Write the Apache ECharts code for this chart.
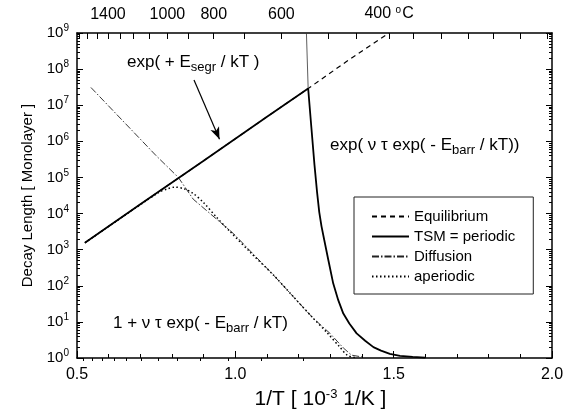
<!DOCTYPE html>
<html>
<head>
<meta charset="utf-8">
<script src="https://cdn.jsdelivr.net/npm/echarts@6/dist/echarts.min.js"></script>
<style>
  html, body { margin: 0; padding: 0; background: #fff; }
  #chart { width: 581px; height: 418px; }
</style>
</head>
<body>
<div id="chart"></div>
<script>
// x: 1/T [10^-3 1/K], y: decay length [monolayer]
const equilX = [0.525, 0.7, 0.9, 1.1, 1.23, 1.35, 1.485];
const equilY = [1.55e3, 1.8e4, 2.9e5, 4.8e6, 2.9e7, 1.6e8, 1e9];

const tsmX = [0.525, 0.7, 0.9, 1.1, 1.23, 1.24, 1.25, 1.258, 1.265, 1.272, 1.28, 1.294, 1.309, 1.325, 1.341, 1.36, 1.383, 1.41, 1.436, 1.46, 1.488, 1.52, 1.56, 1.6];
const tsmY = [1.55e3, 1.8e4, 2.9e5, 4.8e6, 2.9e7, 2.5e6, 2.2e5, 4e4, 1.1e4, 4.5e3, 2e3, 500, 117, 40, 17, 9, 4.8, 3.0, 2.0, 1.6, 1.3, 1.15, 1.07, 1.03];

// steep part of the barrier curve above the kink
const barrX = [1.2245, 1.23];
const barrY = [1e9, 2.9e7];

const diffX = [0.544, 0.65, 0.75, 0.82, 0.867, 0.994, 1.12, 1.183, 1.246, 1.299, 1.341, 1.367, 1.4];
const diffY = [3.1e7, 3.3e6, 4e5, 1.0e5, 2.5e4, 2.8e3, 200, 50, 12.6, 4.8, 1.9, 1.2, 1.07];

const aperX = [0.525, 0.757, 0.785, 0.809, 0.84, 0.867, 0.9, 0.94, 0.983, 1.05, 1.12, 1.183, 1.246, 1.29, 1.33, 1.355, 1.38];
const aperY = [1.55e3, 3.8e4, 4.8e4, 5.4e4, 4.8e4, 3.6e4, 2e4, 8e3, 3.2e3, 800, 200, 50, 12.6, 5, 2, 1.17, 1.03];

// top axis, temperature in deg C
const tempLabels = [1400, 1000, 800, 600, 400];
const tempMajor = [1700, 1600, 1500, 1400, 1300, 1200, 1100, 1000, 900, 800, 700, 600, 500, 450, 400];
const tempMinor = [1650, 1550, 1450, 1350, 1250, 1150, 1050, 950, 850, 750, 650, 550];
// ticks right of 400 C, read straight off the picture as 1/T
const topExtraTicks = [1.561, 1.649, 1.735, 1.814, 1.899, 1.984];

const decades = [0, 1, 2, 3, 4, 5, 6, 7, 8, 9];

const toInv = t => 1000 / (t + 273.15);
const zip = (xs, ys) => xs.map((x, i) => [x, ys[i]]);

const minorLog = [];
decades.slice(0, 9).forEach(d => {
  for (let k = 2; k <= 9; k++) minorLog.push(d + Math.log10(k));
});

const FONT = 'Liberation Sans';
const chart = echarts.init(document.getElementById('chart'));

const gridRect = { left: 77, top: 33, width: 475, height: 325 };
const lineColor = '#000';

const option = {
  animation: false,
  textStyle: { fontFamily: FONT, color: '#000' },
  grid: [
    Object.assign({}, gridRect),
    Object.assign({}, gridRect)
  ],
  legend: {
    data: ['Equilibrium', 'TSM = periodic', 'Diffusion', 'aperiodic'],
    orient: 'vertical',
    left: 354,
    top: 197,
    itemWidth: 37,
    itemHeight: 10,
    itemGap: 5,
    padding: [12, 18, 10, 17],
    borderColor: '#222',
    borderWidth: 1,
    selectedMode: false,
    itemStyle: { opacity: 0 },
    textStyle: { fontFamily: FONT, fontSize: 15, color: '#000', lineHeight: 15 }
  },
  xAxis: [
    {
      type: 'value', gridIndex: 0, position: 'bottom',
      min: 0.5, max: 2.0, interval: 0.5,
      name: '1/T [ 10{s|-3} 1/K ]',
      nameLocation: 'middle',
      nameGap: 27,
      nameTextStyle: {
        fontSize: 21, color: '#000', padding: [0, 0, 0, 12],
        rich: { s: { fontSize: 13, padding: [0, 0, 10, 0] } }
      },
      axisLine: { lineStyle: { color: lineColor, width: 1.5 } },
      axisTick: { inside: true, length: 7, lineStyle: { color: lineColor } },
      minorTick: { show: true, splitNumber: 5, length: 4, lineStyle: { color: lineColor } },
      axisLabel: { fontSize: 16, color: '#000', margin: 9, formatter: v => v.toFixed(1) },
      splitLine: { show: false }
    },
    {
      type: 'value', gridIndex: 0, position: 'top',
      min: 0.5, max: 2.0,
      axisLine: { lineStyle: { color: lineColor, width: 1.5 } },
      axisTick: {
        inside: true, length: 6,
        customValues: tempMajor.map(toInv).concat(topExtraTicks),
        lineStyle: { color: lineColor }
      },
      axisLabel: {
        fontSize: 16, color: '#000', margin: 10,
        customValues: tempLabels.map(toInv),
        formatter: v => {
          const t = Math.round(1000 / v - 273.15);
          return t === 400 ? '400 {s|o}C' : String(t);
        },
        rich: { s: { fontSize: 10, padding: [0, 1, 8, 0] } }
      },
      splitLine: { show: false }
    },
    {
      type: 'value', gridIndex: 1, position: 'bottom', show: false,
      min: 0.5, max: 2.0
    },
    {
      type: 'value', gridIndex: 1, position: 'top',
      min: 0.5, max: 2.0,
      axisLine: { show: false },
      axisTick: { inside: true, length: 3, customValues: tempMinor.map(toInv), lineStyle: { color: lineColor } },
      axisLabel: { show: false },
      splitLine: { show: false }
    }
  ],
  yAxis: [
    {
      type: 'log', gridIndex: 0, position: 'left',
      min: 1, max: 1e9, logBase: 10,
      name: 'Decay Length [ Monolayer ]',
      nameLocation: 'middle',
      nameGap: 30,
      nameTextStyle: { fontSize: 15, color: '#000' },
      axisLine: { lineStyle: { color: lineColor, width: 1.5 } },
      axisTick: { inside: true, length: 6, lineStyle: { color: lineColor } },
      axisLabel: {
        color: '#000', margin: 8,
        formatter: v => '{b|10}{s|' + Math.round(Math.log10(v)) + '}',
        rich: {
          b: { fontSize: 15, color: '#000' },
          s: { fontSize: 10, color: '#000', padding: [0, 0, 9, 0] }
        }
      },
      splitLine: { show: false }
    },
    {
      type: 'log', gridIndex: 0, position: 'right',
      min: 1, max: 1e9, logBase: 10,
      axisLine: { lineStyle: { color: lineColor, width: 1.5 } },
      axisTick: { inside: true, length: 6, lineStyle: { color: lineColor } },
      axisLabel: { show: false },
      splitLine: { show: false }
    },
    {
      type: 'value', gridIndex: 1, position: 'left',
      min: 0, max: 9,
      axisLine: { show: false },
      axisTick: { inside: true, length: 3, customValues: minorLog, lineStyle: { color: lineColor } },
      axisLabel: { show: false },
      splitLine: { show: false }
    },
    {
      type: 'value', gridIndex: 1, position: 'right',
      min: 0, max: 9,
      axisLine: { show: false },
      axisTick: { inside: true, length: 3, customValues: minorLog, lineStyle: { color: lineColor } },
      axisLabel: { show: false },
      splitLine: { show: false }
    }
  ],
  series: [
    {
      name: 'Equilibrium', type: 'line', xAxisIndex: 0, yAxisIndex: 0,
      data: zip(equilX, equilY), symbol: 'none', clip: true,
      itemStyle: { color: '#000' },
      lineStyle: { color: '#000', width: 1.2, type: [5, 4] }
    },
    {
      name: 'Diffusion', type: 'line', xAxisIndex: 0, yAxisIndex: 0,
      data: zip(diffX, diffY), symbol: 'none', clip: true,
      itemStyle: { color: '#000' },
      lineStyle: { color: '#222', width: 0.9, type: [7, 2, 1.5, 2] }
    },
    {
      name: 'aperiodic', type: 'line', xAxisIndex: 0, yAxisIndex: 0,
      data: zip(aperX, aperY), symbol: 'none', smooth: 0.3, clip: true,
      itemStyle: { color: '#000' },
      lineStyle: { color: '#000', width: 1.5, type: [1.5, 2.5] }
    },
    {
      name: 'barrier', type: 'line', xAxisIndex: 0, yAxisIndex: 0,
      data: zip(barrX, barrY), symbol: 'none', clip: true,
      itemStyle: { color: '#333' },
      lineStyle: { color: '#333', width: 0.8 }
    },
    {
      name: 'TSM = periodic', type: 'line', xAxisIndex: 0, yAxisIndex: 0,
      data: zip(tsmX, tsmY), symbol: 'none', clip: true,
      itemStyle: { color: '#000' },
      lineStyle: { color: '#000', width: 1.8 },
      markLine: {
        silent: true,
        symbol: ['none', 'arrow'],
        symbolSize: [7, 12],
        label: { show: false },
        lineStyle: { color: '#000', width: 1.2, type: 'solid' },
        data: [[{ coord: [0.8695, 5e7] }, { coord: [0.95, 1.15e6] }]]
      }
    }
  ],
  graphic: [
    {
      type: 'text', left: 127, top: 54,
      style: { text: 'exp( + E{s|segr} / kT )', font: '17px ' + FONT, fill: '#000',
        rich: { s: { fontSize: 13, fontFamily: FONT, padding: [9, 0, 0, 0] } } }
    },
    {
      type: 'text', left: 330, top: 137,
      style: { text: 'exp( \u03bd \u03c4 exp( - E{s|barr} / kT))', font: '17px ' + FONT, fill: '#000',
        rich: { s: { fontSize: 13, fontFamily: FONT, padding: [9, 0, 0, 0] } } }
    },
    {
      type: 'text', left: 113, top: 315,
      style: { text: '1 + \u03bd \u03c4 exp( - E{s|barr} / kT)', font: '17px ' + FONT, fill: '#000',
        rich: { s: { fontSize: 13, fontFamily: FONT, padding: [9, 0, 0, 0] } } }
    }
  ]
};

chart.setOption(option);
</script>
</body>
</html>
